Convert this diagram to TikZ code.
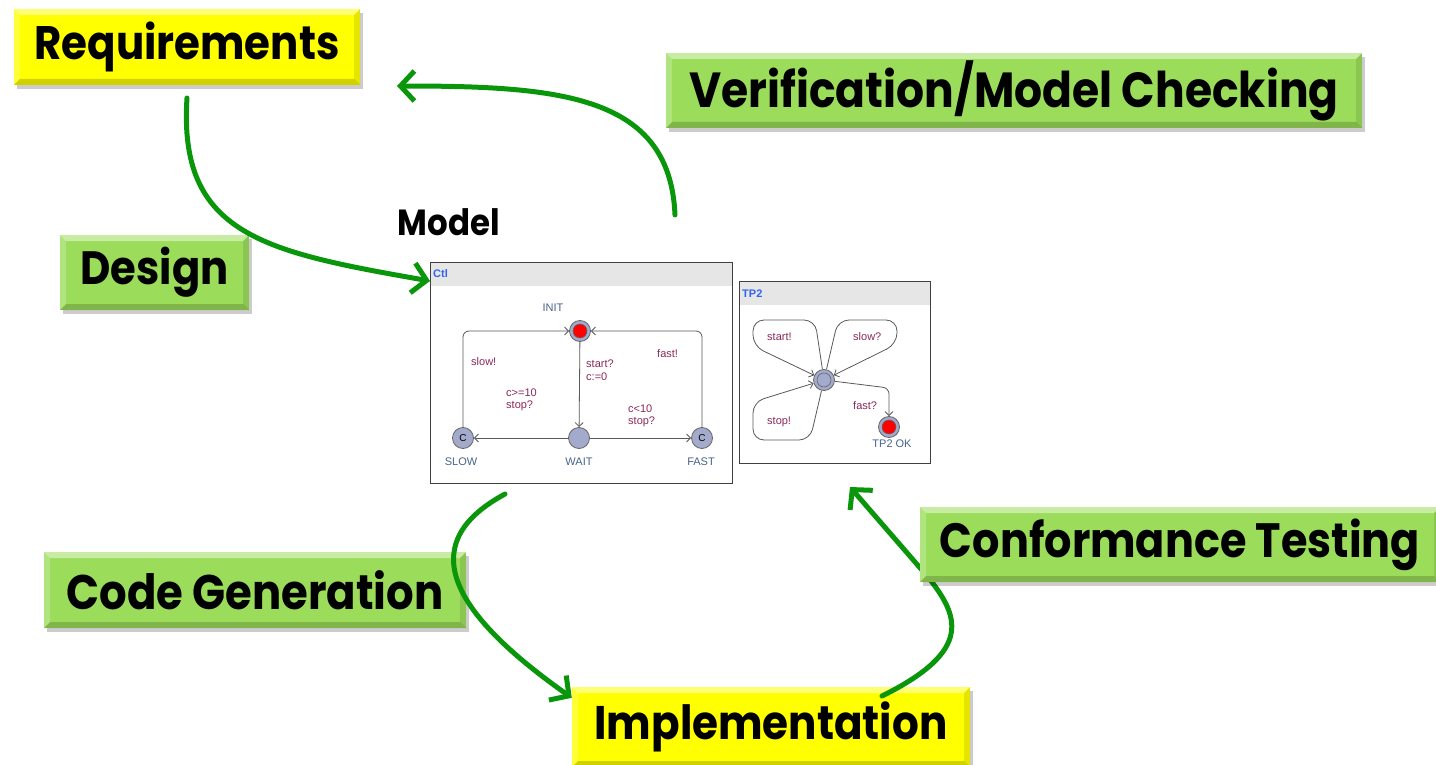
\documentclass[tikz,border=0pt]{standalone}
\usepackage{fontspec}
\usepackage{graphicx}
\setmainfont{Poppins}
\newfontfamily\uppfont{Liberation Sans}
\usetikzlibrary{arrows.meta,shadows}
\definecolor{boxgreen}{RGB}{155,221,90}
\definecolor{boxyellow}{RGB}{255,255,0}
\definecolor{arrgreen}{RGB}{10,150,10}
\definecolor{hdrgray}{RGB}{230,230,230}
\definecolor{tmplname}{RGB}{50,100,240}
\definecolor{locname}{RGB}{70,100,140}
\definecolor{lblcol}{RGB}{140,40,90}
\definecolor{locfill}{RGB}{163,170,203}
\newcommand{\fitw}[2]{\raisebox{-3pt}{\scalebox{1}[1.12]{\resizebox{#1pt}{!}{\bfseries #2}}}}
\tikzset{
  bevelbox/.style={rectangle, inner sep=0pt, fill=#1, text=black,
    drop shadow={shadow xshift=3pt, shadow yshift=-4pt, fill=black, opacity=0.2},
    path picture={
      \fill[white, opacity=0.45] (path picture bounding box.north west) -- (path picture bounding box.north east)
        -- ([shift={(-6pt,-6pt)}]path picture bounding box.north east) -- ([shift={(6pt,-6pt)}]path picture bounding box.north west) -- cycle;
      \fill[white, opacity=0.22] (path picture bounding box.north west) -- ([shift={(6pt,-6pt)}]path picture bounding box.north west)
        -- ([shift={(6pt,6pt)}]path picture bounding box.south west) -- (path picture bounding box.south west) -- cycle;
      \fill[black, opacity=0.18] (path picture bounding box.south west) -- (path picture bounding box.south east)
        -- ([shift={(-6pt,6pt)}]path picture bounding box.south east) -- ([shift={(6pt,6pt)}]path picture bounding box.south west) -- cycle;
      \fill[black, opacity=0.10] (path picture bounding box.north east) -- ([shift={(-6pt,-6pt)}]path picture bounding box.north east)
        -- ([shift={(-6pt,6pt)}]path picture bounding box.south east) -- (path picture bounding box.south east) -- cycle;
    }},
  greenbox/.style={bevelbox=boxgreen},
  yellowbox/.style={bevelbox=boxyellow},
  garrow/.style={draw=arrgreen, line width=5pt, line cap=round,
    -{Straight Barb[length=14pt,width=30pt]}},
  panel/.style={rectangle, draw=black!75, line width=1pt, fill=white, inner sep=0pt, anchor=north west},
  hdr/.style={rectangle, fill=hdrgray, inner sep=0pt, anchor=north west},
  tmpl/.style={font=\uppfont\bfseries\fontsize{11}{12}\selectfont, text=tmplname, anchor=west, inner sep=1pt},
  loc/.style={circle, draw=black!60, fill=locfill, minimum size=21pt, inner sep=0pt, line width=0.8pt,
    font=\uppfont\fontsize{10}{11}\selectfont},
  initloc/.style={loc, path picture={\draw[black!60, line width=0.6pt] (path picture bounding box.center) circle (7pt);}},
  initred/.style={loc, path picture={\fill[red] (path picture bounding box.center) circle (7pt);
      \draw[black!60, line width=0.6pt] (path picture bounding box.center) circle (7pt);}},
  locname/.style={font=\uppfont\fontsize{11}{12}\selectfont, text=locname, inner sep=0pt},
  elabel/.style={font=\uppfont\fontsize{11}{12.5}\selectfont, text=lblcol, align=left, anchor=west, inner sep=0pt},
  uedge/.style={draw=black!65, line width=0.8pt, -{Straight Barb[length=4pt,width=8pt]}},
}
\begin{document}
\begin{tikzpicture}[x=1pt,y=-1pt]
\useasboundingbox (0,0) rectangle (1436,765);

% ---------- Ctl template ----------
\node[panel, minimum width=302pt, minimum height=221pt] (ctl) at (430,262) {};
\node[hdr, minimum width=301pt, minimum height=23pt] (ctlhdr) at (430.5,262.5) {};
\node[tmpl] (ctlname) at (432,274) {Ctl};

\node[initred] (INIT) at (580,331) {};
\node[loc] (WAIT) at (579,438) {};
\node[loc] (SLOW) at (463,438) {C};
\node[loc] (FAST) at (702,438) {C};
\node[locname] (INITl) at (553,308) {INIT};
\node[locname] (WAITl) at (579,462) {WAIT};
\node[locname] (SLOWl) at (461,462) {SLOW};
\node[locname] (FASTl) at (701,462) {FAST};

\draw[uedge] (INIT) -- (WAIT);
\draw[uedge] (WAIT) -- (SLOW);
\draw[uedge] (WAIT) -- (FAST);
\draw[uedge, rounded corners=6pt] (SLOW) -- (SLOW.center |- INIT.center) -- (INIT);
\draw[uedge, rounded corners=6pt] (FAST) -- (FAST.center |- INIT.center) -- (INIT);

\node[elabel] (l1) at (586,370) {start?\\c:=0};
\node[elabel] (l2) at (506,400) {c>=10\\stop?};
\node[elabel] (l3) at (628,416) {c<10\\stop?};
\node[elabel] (l4) at (471,362) {slow!};
\node[elabel] (l5) at (657,354) {fast!};

% ---------- TP2 template ----------
\node[panel, minimum width=191pt, minimum height=182pt] (tp2) at (739,281) {};
\node[hdr, minimum width=190pt, minimum height=23pt] (tp2hdr) at (739.5,281.5) {};
\node[tmpl] (tp2name) at (741,294) {TP2};

\node[initloc] (C0) at (824,380) {};
\node[initred] (OK) at (889,427) {};
\node[locname] (OKl) at (892,444) {TP2 OK};

\draw[uedge, rounded corners=11pt] (C0) -- (815,320) -- (753,320) -- (753,346) -- (C0);
\draw[uedge, rounded corners=11pt] (C0) -- (838,320) -- (897,320) -- (897,344) -- (C0);
\draw[uedge, rounded corners=11pt] (C0) -- (810,440) -- (753,440) -- (753,402) -- (C0);
\draw[uedge, rounded corners=6pt] (C0) -- (OK.center |- 0,388) -- (OK);

\node[elabel] (t1) at (767,337) {start!};
\node[elabel] (t2) at (853,337) {slow?};
\node[elabel] (t3) at (767,422) {stop!};
\node[elabel] (t4) at (853,406) {fast?};

% ---------- Boxes ----------
\node[yellowbox, minimum width=346pt, minimum height=76pt] (req) at (187,47) {\fitw{305}{Requirements}};
\node[greenbox, minimum width=696pt, minimum height=75pt] (verif) at (1014,90.5) {\fitw{649}{Verification/Model Checking}};
\node[greenbox, minimum width=189pt, minimum height=75pt] (design) at (154.5,272.5) {\fitw{148}{Design}};
\node[greenbox, minimum width=422pt, minimum height=76pt] (codegen) at (255,590) {\fitw{377}{Code Generation}};
\node[yellowbox, minimum width=398pt, minimum height=80pt] (impl) at (771,727) {\fitw{353}{Implementation}};
\node[inner sep=0pt] (model) at (449,222) {\fitw{102}{Model}};

% ---------- Green arrows ----------
\coordinate (a1s) at (187,98);
\coordinate (a2s) at (675,215);
\coordinate (a2e) at (397,86);
\coordinate (a3s) at (505,494);
\coordinate (a4s) at (882,696);
\coordinate (a4e) at (850,487);
\draw[garrow] (a1s) .. controls (178,235) and (265,252) .. ([yshift=-19pt]ctl.north west);
\draw[garrow] (a2s) .. controls (670,95) and (560,86) .. (a2e);
\draw[garrow] (a3s) .. controls (420,540) and (440,605) .. ([yshift=-11pt]impl.north west);
\draw[garrow] (a4s) .. controls (975,650) and (958,615) .. (928,577) -- (a4e);

\node[greenbox, minimum width=520pt, minimum height=75pt] (conf) at (1180,544.5) {\fitw{480}{Conformance Testing}};
\end{tikzpicture}
\end{document}
